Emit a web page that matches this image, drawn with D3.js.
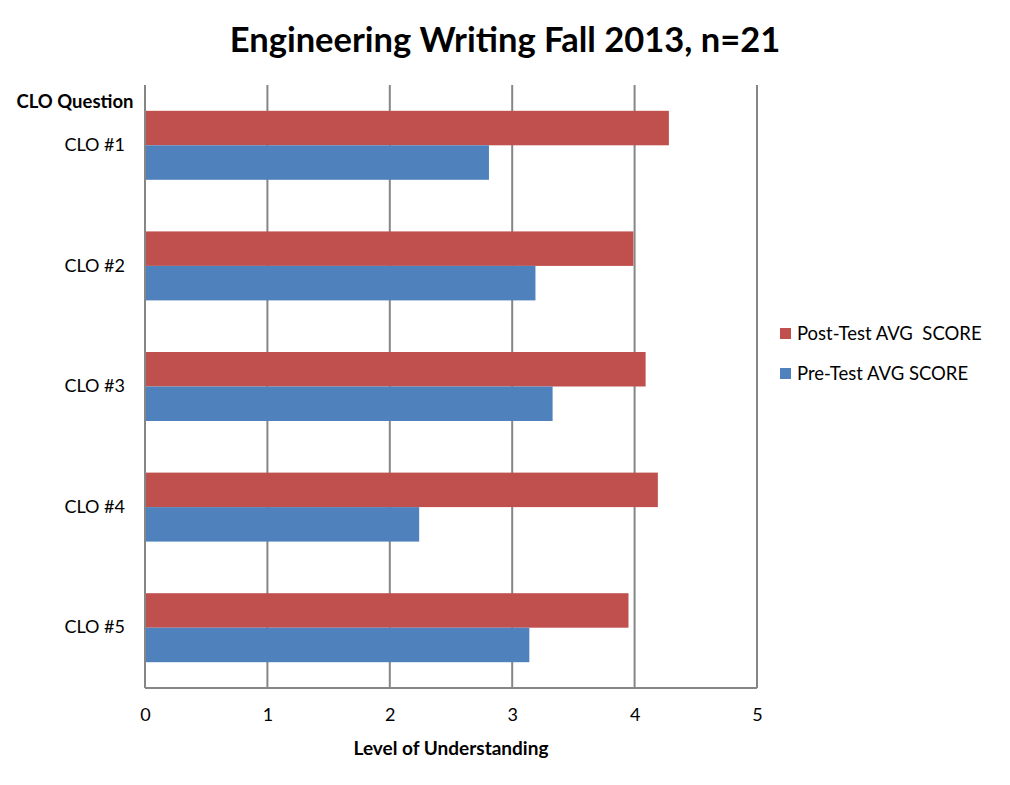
<!DOCTYPE html>
<html>
<head>
<meta charset="utf-8">
<script src="https://cdn.jsdelivr.net/npm/d3@7"></script>
<style>
  body { margin: 0; background: #fff; }
  svg text { font-family: Lato, "Open Sans", "Liberation Sans", sans-serif; fill: #000; }
</style>
</head>
<body>
<svg id="chart" width="1010" height="785"></svg>
<script>
const categories = ["CLO #1", "CLO #2", "CLO #3", "CLO #4", "CLO #5"];
const seriesNames = ["Post-Test AVG  SCORE", "Pre-Test AVG SCORE"];
const postTest = [4.28, 3.99, 4.09, 4.19, 3.95];
const preTest = [2.81, 3.19, 3.33, 2.24, 3.14];
const xTicks = [0, 1, 2, 3, 4, 5];
const colors = ["#C0504D", "#4F81BD"];

const svg = d3.select("#chart");
const margin = { left: 145, right: 253, top: 85, bottom: 97 };
const W = 1010, H = 785;
const pw = W - margin.left - margin.right;
const ph = H - margin.top - margin.bottom;

const x = d3.scaleLinear().domain([0, 5]).range([0, pw]);
const y = d3.scaleBand().domain(categories).range([0, ph]).paddingInner(0.428).paddingOuter(0.214);
const sub = d3.scaleBand().domain(seriesNames).range([0, y.bandwidth()]);

const g = svg.append("g").attr("transform", `translate(${margin.left},${margin.top})`);

// gridlines
g.selectAll("line.grid").data(xTicks).join("line")
  .attr("x1", d => x(d)).attr("x2", d => x(d))
  .attr("y1", 0).attr("y2", ph)
  .attr("stroke", "#868686").attr("stroke-width", 2);

// bars
const data = categories.map((c, i) => ({ c, vals: [postTest[i], preTest[i]] }));
const groups = g.selectAll("g.cat").data(data).join("g")
  .attr("transform", d => `translate(0,${y(d.c)})`);
groups.selectAll("rect").data(d => d.vals.map((v, j) => ({ v, s: seriesNames[j], j }))).join("rect")
  .attr("x", 0)
  .attr("y", d => sub(d.s))
  .attr("width", d => x(d.v))
  .attr("height", sub.bandwidth())
  .attr("fill", d => colors[d.j]);

// axes lines
g.append("line").attr("x1", 0).attr("x2", pw).attr("y1", ph).attr("y2", ph)
  .attr("stroke", "#868686").attr("stroke-width", 2);
g.append("line").attr("x1", 0).attr("x2", 0).attr("y1", 0).attr("y2", ph)
  .attr("stroke", "#868686").attr("stroke-width", 2);

// x axis labels via d3 axis
const xAxis = g.append("g").attr("transform", `translate(0,${ph})`)
  .call(d3.axisBottom(x).tickValues(xTicks).tickSize(0).tickPadding(20).tickFormat(d3.format("d")));
xAxis.select(".domain").remove();
xAxis.selectAll("text").attr("font-size", 18).style("font-family", "Lato, 'Open Sans', sans-serif");

// y axis labels
const yAxis = g.append("g")
  .call(d3.axisLeft(y).tickSize(0).tickPadding(20));
yAxis.select(".domain").remove();
yAxis.selectAll("text").attr("font-size", 18).style("font-family", "Lato, 'Open Sans', sans-serif");

// title
svg.append("text").attr("x", 505).attr("y", 52).attr("text-anchor", "middle")
  .attr("font-size", 34.5).attr("font-weight", "bold").text("Engineering Writing Fall 2013, n=21");

// y title
svg.append("text").attr("x", 75).attr("y", 108).attr("text-anchor", "middle")
  .attr("font-size", 18.5).attr("font-weight", "bold").text("CLO Question");

// x title
svg.append("text").attr("x", 451).attr("y", 755).attr("text-anchor", "middle")
  .attr("font-size", 19).attr("font-weight", "bold").text("Level of Understanding");

// legend
const legend = svg.append("g").attr("transform", "translate(780,328)");
seriesNames.forEach((s, i) => {
  const lg = legend.append("g").attr("transform", `translate(0,${i * 40})`);
  lg.append("rect").attr("width", 11).attr("height", 11).attr("fill", colors[i]);
  lg.append("text").attr("x", 17).attr("y", 12).attr("font-size", 18.5)
    .style("white-space", "pre").attr("xml:space", "preserve").text(s);
});
</script>
</body>
</html>
